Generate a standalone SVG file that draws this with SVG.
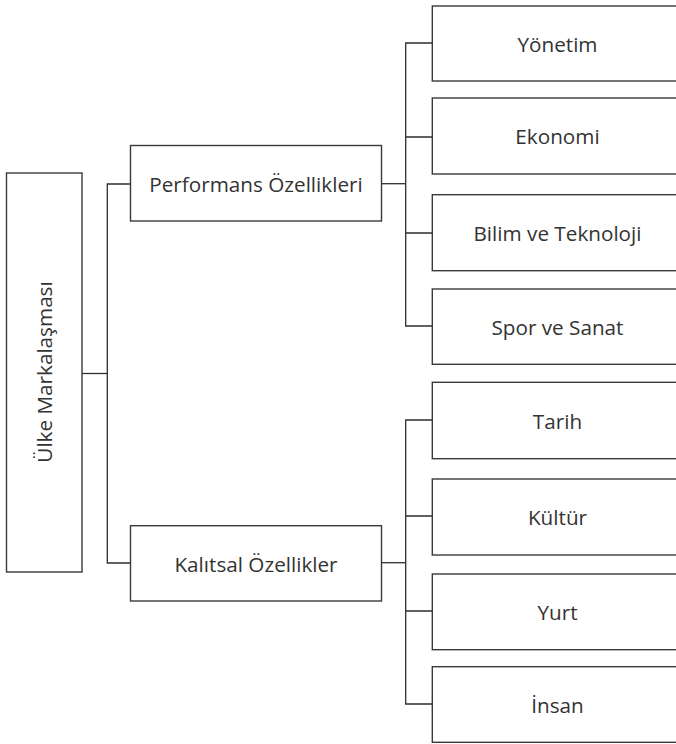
<svg xmlns="http://www.w3.org/2000/svg" width="676" height="744" viewBox="0 0 676 744">
<style>
.box{fill:#fff;stroke:#3a3a3a;stroke-width:1.4}
.lbl{font-family:"Open Sans","Liberation Sans",sans-serif;font-size:20.7px;fill:#333;text-anchor:middle}
.conn{fill:none;stroke:#2e2e2e;stroke-width:1.3}
</style>
<rect width="676" height="744" fill="#fff"/>
<g id="connectors">
<path class="conn" d="M82,373.5 H107.3"/>
<path class="conn" d="M130.5,184 H107.3 V563 H130.5"/>
<path class="conn" d="M381.5,183.7 H405.7"/>
<path class="conn" d="M432.3,43 H405.7 V326 H432.3 M405.7,137 H432.3 M405.7,233 H432.3"/>
<path class="conn" d="M381.5,562.7 H405.7"/>
<path class="conn" d="M432.3,420 H405.7 V704 H432.3 M405.7,516 H432.3 M405.7,611 H432.3"/>
</g>
<g id="root">
<rect class="box" x="6.5" y="173" width="75.5" height="399"/>
<text class="lbl" transform="translate(51.5,372) rotate(-90)">Ülke Markalaşması</text>
</g>
<g id="performans">
<rect class="box" x="130.5" y="145.5" width="251" height="75.5"/>
<text class="lbl" x="256" y="191.5">Performans Özellikleri</text>
</g>
<g id="kalitsal">
<rect class="box" x="130.5" y="525.7" width="251" height="75.3"/>
<text class="lbl" x="256" y="571.5">Kalıtsal Özellikler</text>
</g>
<g id="yonetim">
<rect class="box" x="432.3" y="6" width="251" height="75"/>
<text class="lbl" x="557.5" y="51.5">Yönetim</text>
</g>
<g id="ekonomi">
<rect class="box" x="432.3" y="98" width="251" height="76"/>
<text class="lbl" x="557.5" y="144">Ekonomi</text>
</g>
<g id="bilim">
<rect class="box" x="432.3" y="194.7" width="251" height="76"/>
<text class="lbl" x="557.5" y="241">Bilim ve Teknoloji</text>
</g>
<g id="spor">
<rect class="box" x="432.3" y="289" width="251" height="75.3"/>
<text class="lbl" x="557.5" y="335">Spor ve Sanat</text>
</g>
<g id="tarih">
<rect class="box" x="432.3" y="382.3" width="251" height="76.4"/>
<text class="lbl" x="557.5" y="428.5">Tarih</text>
</g>
<g id="kultur">
<rect class="box" x="432.3" y="479" width="251" height="76"/>
<text class="lbl" x="557.5" y="525">Kültür</text>
</g>
<g id="yurt">
<rect class="box" x="432.3" y="574" width="251" height="75.7"/>
<text class="lbl" x="557.5" y="620">Yurt</text>
</g>
<g id="insan">
<rect class="box" x="432.3" y="666.7" width="251" height="75.6"/>
<text class="lbl" x="557.5" y="712.5">İnsan</text>
</g>
</svg>
